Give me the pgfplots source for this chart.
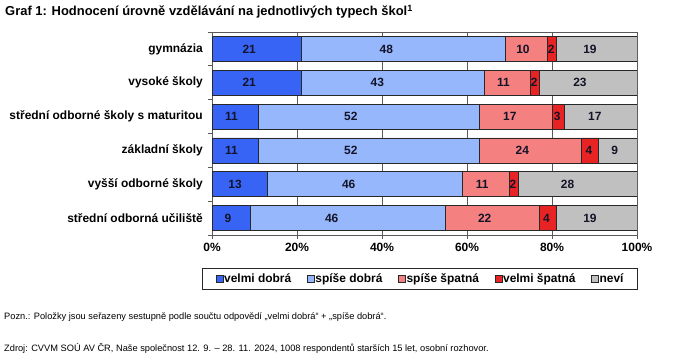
\documentclass[border=0pt]{standalone}
\usepackage{pgfplots}
\pgfplotsset{compat=1.18}
\usepackage{fontspec}
\setmainfont{Liberation Sans}
\definecolor{c1}{RGB}{55,100,245}
\definecolor{c2}{RGB}{150,183,252}
\definecolor{c3}{RGB}{245,128,128}
\definecolor{c4}{RGB}{232,35,35}
\definecolor{c5}{RGB}{192,192,192}
\definecolor{edge}{RGB}{40,40,40}
\definecolor{gridc}{RGB}{90,90,90}
\begin{document}
\begin{tikzpicture}
\path[use as bounding box] (0bp,0bp) rectangle (680bp,360bp);
\node[anchor=base west, inner sep=0pt, font=\bfseries\fontsize{13}{15}\selectfont] at (5bp,344bp)
  {Graf 1: Hodnocení úrovně vzdělávání na jednotlivých typech škol\textsuperscript{1}};
\node[anchor=base west, inner sep=0pt, font=\fontsize{9.3}{11}\selectfont] at (4bp,40bp)
  {Pozn.: Položky jsou seřazeny sestupně podle součtu odpovědí „velmi dobrá“ + „spíše dobrá“.};
\node[anchor=base west, inner sep=0pt, font=\fontsize{9.3}{11}\selectfont] at (4bp,9bp)
  {Zdroj: CVVM SOÚ AV ČR, Naše společnost 12. 9. – 28. 11. 2024, 1008 respondentů starších 15 let, osobní rozhovor.};
\begin{axis}[
  at={(212bp,125bp)}, anchor=south west,
  scale only axis, width=425bp, height=203bp,
  xbar stacked, bar width=25bp,
  xmin=0, xmax=100, ymin=-0.5, ymax=5.5, y dir=reverse,
  /pgf/number format/assume math mode=true,
  axis line style={draw=gridc, line width=0.7pt},
  xtick={0,20,40,60,80,100},
  xticklabels={0\%,20\%,40\%,60\%,80\%,100\%},
  xtick pos=bottom, ytick pos=left, tick align=outside,
  major tick length=4bp,
  tick style={draw=gridc, line width=0.7pt},
  xmajorgrids, major grid style={draw=gridc, line width=0.7pt},
  xticklabel style={font=\bfseries\fontsize{12}{14}\selectfont, yshift=-1bp},
  ytick={-0.5,0.5,...,5.5}, yticklabels={},
  extra y ticks={0,1,2,3,4,5},
  extra y tick labels={gymnázia,vysoké školy,střední odborné školy s maturitou,základní školy,vyšší odborné školy,střední odborná učiliště},
  extra y tick style={major tick length=0pt, yticklabel style={font=\bfseries\fontsize{12}{14}\selectfont, anchor=east, inner sep=0pt, xshift=-9bp}},
  every axis plot/.append style={draw=edge, line width=0.7pt},
  visualization depends on=rawx \as \rawx,
  nodes near coords,
  every node near coord/.append style={font=\bfseries\fontsize{12}{14}\selectfont, text={rgb,255:red,20;green,20;blue,40}, anchor=center, xshift={-0.354167bp*\rawx}},
  legend columns=5,
  legend style={at={(0.489,-0.162)}, anchor=north, draw=edge, line width=0.6pt,
    font=\bfseries\fontsize{12}{14}\selectfont, inner xsep=13bp, inner ysep=3.5bp,
    /tikz/every odd column/.append style={column sep=0.5bp},
    /tikz/every even column/.append style={column sep=15bp},
    nodes={inner xsep=0.5bp}},
  legend image code/.code={\draw[#1, draw=edge, line width=0.6pt] (0bp,-3.5bp) rectangle (7bp,3.5bp);},
]
\addplot[fill=c1] coordinates {(21,0) (21,1) (11,2) (11,3) (13,4) (9,5)};
\addplot[fill=c2] coordinates {(48,0) (43,1) (52,2) (52,3) (46,4) (46,5)};
\addplot[fill=c3] coordinates {(10,0) (11,1) (17,2) (24,3) (11,4) (22,5)};
\addplot[fill=c4] coordinates {(2,0) (2,1) (3,2) (4,3) (2,4) (4,5)};
\addplot[fill=c5] coordinates {(19,0) (23,1) (17,2) (9,3) (28,4) (19,5)};
\legend{velmi dobrá,spíše dobrá,spíše špatná,velmi špatná,neví}
\end{axis}
\end{tikzpicture}
\end{document}
